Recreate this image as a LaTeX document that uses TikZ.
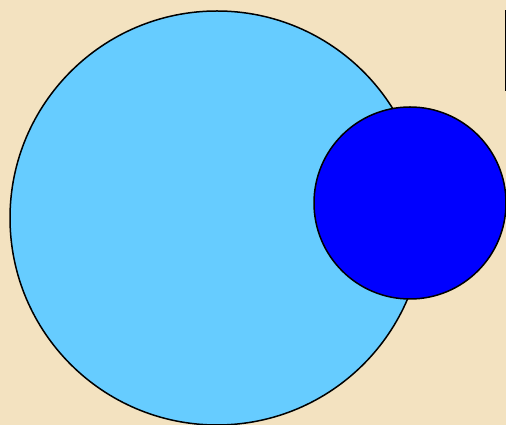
\documentclass[tikz,border=0pt]{standalone}
\definecolor{bg}{RGB}{243,226,192}
\definecolor{lightblue}{RGB}{102,204,255}
\definecolor{deepblue}{RGB}{0,0,255}
\tikzset{ball/.style={draw=black,line width=1.5pt}}
\begin{document}
\begin{tikzpicture}[x=1pt,y=1pt]
\useasboundingbox (0,0) rectangle (506,425);
\fill[bg] (0,0) rectangle (506,425);
\begin{scope}
\clip (0,0) rectangle (506,425);
\draw[ball,fill=lightblue] (217,207) circle (207);
\draw[ball,fill=deepblue] (410,222) circle (96);
\draw[line width=2pt] (505.5,415) -- (505.5,334);
\end{scope}
\end{tikzpicture}
\end{document}
